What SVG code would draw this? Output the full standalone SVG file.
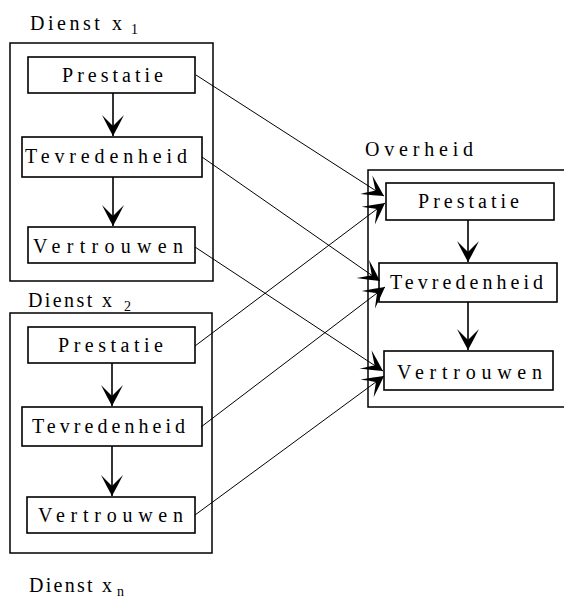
<svg xmlns="http://www.w3.org/2000/svg" width="564" height="601" viewBox="0 0 564 601">
<style>
.frame{fill:none;stroke:#000;stroke-width:1.5}
.box{fill:#fff;stroke:#000;stroke-width:1.6}
.t{font-family:"Liberation Serif","DejaVu Serif",serif;font-size:20px;fill:#000}
.sub{font-family:"Liberation Serif","DejaVu Serif",serif;font-size:14px;fill:#000}
.v{stroke:#000;stroke-width:1.6;fill:none}
.c{stroke:#000;stroke-width:1;fill:none}
</style>
<defs>
<marker id="ah" markerUnits="userSpaceOnUse" markerWidth="26" markerHeight="26" viewBox="-23 -13 26 26" refX="0" refY="0" orient="auto">
<path d="M0,0 Q-9,-5 -21,-11 Q-14,-4 -10,0 Q-14,4 -21,11 Q-9,5 0,0 Z" fill="#000"/>
</marker>
</defs>
<rect width="564" height="601" fill="#fff"/>

<g id="dienst1">
<text class="t" x="30" y="30" textLength="92" lengthAdjust="spacing">Dienst x</text>
<text class="sub" x="131" y="34">1</text>
<rect class="frame" x="10" y="43" width="203" height="238"/>
</g>
<g id="d1-prestatie"><rect class="box" x="28" y="57" width="167" height="36"/><text class="t" x="62" y="82" textLength="101" lengthAdjust="spacing">Prestatie</text></g>
<g id="d1-tevredenheid"><rect class="box" x="22" y="137" width="180" height="40"/><text class="t" x="25" y="163" textLength="162" lengthAdjust="spacing">Tevredenheid</text></g>
<g id="d1-vertrouwen"><rect class="box" x="28" y="227" width="167" height="36"/><text class="t" x="33" y="253" textLength="150" lengthAdjust="spacing">Vertrouwen</text></g>

<g id="dienst2">
<text class="t" x="28" y="307" textLength="84" lengthAdjust="spacing">Dienst x</text>
<text class="sub" x="124" y="311">2</text>
<rect class="frame" x="10" y="313" width="202" height="240"/>
</g>
<g id="d2-prestatie"><rect class="box" x="28" y="327" width="167" height="36"/><text class="t" x="58" y="352" textLength="105" lengthAdjust="spacing">Prestatie</text></g>
<g id="d2-tevredenheid"><rect class="box" x="22" y="407" width="180" height="39"/><text class="t" x="32" y="433" textLength="153" lengthAdjust="spacing">Tevredenheid</text></g>
<g id="d2-vertrouwen"><rect class="box" x="27" y="497" width="168" height="36"/><text class="t" x="38" y="522" textLength="145" lengthAdjust="spacing">Vertrouwen</text></g>

<g id="dienstn">
<text class="t" x="29" y="592" textLength="83" lengthAdjust="spacing">Dienst x</text>
<text class="sub" x="117" y="596">n</text>
</g>

<g id="overheid">
<text class="t" x="365" y="156" textLength="108" lengthAdjust="spacing">Overheid</text>
<rect class="frame" x="368" y="170" width="200" height="237"/>
</g>
<g id="o-prestatie"><rect class="box" x="386" y="183" width="168" height="37"/><text class="t" x="418" y="208" textLength="101" lengthAdjust="spacing">Prestatie</text></g>
<g id="o-tevredenheid"><rect class="box" x="379" y="263" width="178" height="39"/><text class="t" x="390" y="289" textLength="153" lengthAdjust="spacing">Tevredenheid</text></g>
<g id="o-vertrouwen"><rect class="box" x="384" y="351" width="169" height="39"/><text class="t" x="397" y="379" textLength="145" lengthAdjust="spacing">Vertrouwen</text></g>

<g id="connectors">
<line class="v" x1="113" y1="93" x2="113" y2="136" marker-end="url(#ah)"/>
<line class="v" x1="113" y1="177" x2="113" y2="226" marker-end="url(#ah)"/>
<line class="v" x1="112" y1="363" x2="112" y2="406" marker-end="url(#ah)"/>
<line class="v" x1="112" y1="446" x2="112" y2="496" marker-end="url(#ah)"/>
<line class="v" x1="468" y1="220" x2="468" y2="262" marker-end="url(#ah)"/>
<line class="v" x1="468" y1="302" x2="468" y2="350" marker-end="url(#ah)"/>
<line class="c" x1="196" y1="75" x2="384" y2="196" marker-end="url(#ah)"/>
<line class="c" x1="202" y1="157" x2="380" y2="281" marker-end="url(#ah)"/>
<line class="c" x1="195" y1="247" x2="383" y2="371" marker-end="url(#ah)"/>
<line class="c" x1="195" y1="346" x2="385" y2="203" marker-end="url(#ah)"/>
<line class="c" x1="201" y1="427" x2="385" y2="287" marker-end="url(#ah)"/>
<line class="c" x1="195" y1="515" x2="384" y2="376" marker-end="url(#ah)"/>
</g>
</svg>
